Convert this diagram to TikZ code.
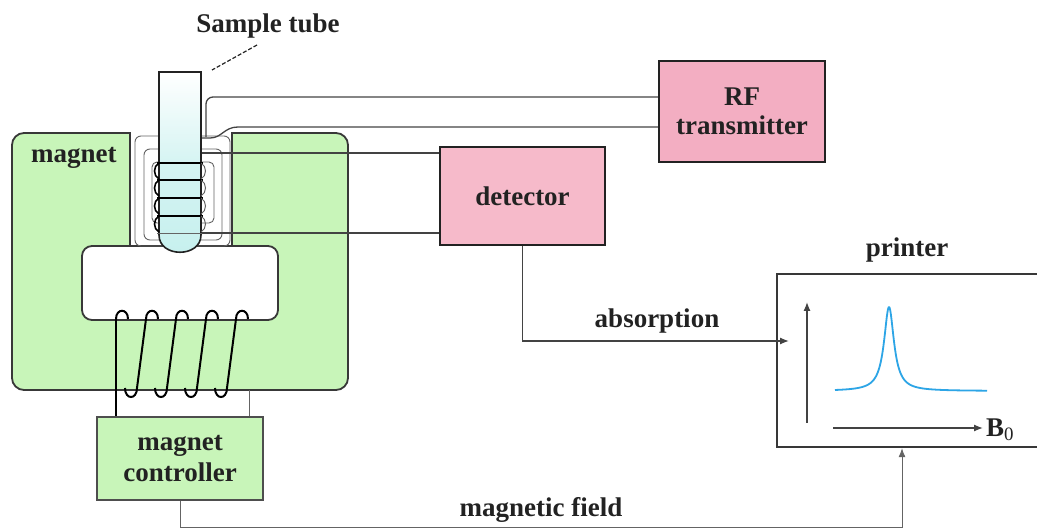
\documentclass[tikz,border=0pt]{standalone}
\usepackage{fontspec}
\setmainfont{Liberation Serif}
\usetikzlibrary{arrows.meta}

\definecolor{magnetgreen}{RGB}{200,245,185}
\definecolor{boxpink}{RGB}{246,186,202}
\definecolor{rfpink}{RGB}{243,174,194}
\definecolor{tubecyan}{RGB}{198,240,238}
\definecolor{peakblue}{RGB}{45,165,230}
\definecolor{ink}{RGB}{34,34,34}

\begin{document}
\begin{tikzpicture}[x=1pt,y=-1pt,
  lbl/.style={font=\fontsize{27}{31}\selectfont\bfseries, text=ink, inner sep=0pt, align=center},
  unitbox/.style={draw=ink, line width=2.4pt, inner sep=0pt, align=center,
                  font=\fontsize{27}{31}\selectfont\bfseries, text=ink},
  outline/.style={draw=ink!90, line width=1.8pt},
  wire/.style={draw=ink!85, line width=1.3pt},
  thinwire/.style={draw=ink!70, line width=0.9pt},
  coilwire/.style={draw=black, line width=2pt},
  tip/.style={-{Latex[length=9pt,width=7pt]}},
]
\useasboundingbox (0,0) rectangle (1037,529);
\clip (0,0) rectangle (1037,529);

% ---------------- magnet yoke ----------------
\draw[outline, fill=magnetgreen, rounded corners=12] (12,133) rectangle (348,390);
% gap between the pole pieces
\fill[white] (131,128) rectangle (231,247);
\draw[outline] (130,133) -- (130,247) (232,133) -- (232,247);
% opening inside the yoke
\draw[outline, fill=white, rounded corners=10] (82,246) rectangle (278,320);

% ---------------- probe ----------------
\draw[thinwire, rounded corners=6] (135,136) rectangle (230,246);
\draw[thinwire, rounded corners=6] (144,149) rectangle (222,240);
\draw[thinwire, rounded corners=5] (152,162) rectangle (214,223);

% sample tube
\draw[top color=white, bottom color=tubecyan, middle color=tubecyan!75!white,
      draw=ink, line width=1.6pt]
  (159,72) -- (159,235) .. controls (159,258) and (201,258) .. (201,235) -- (201,72) -- cycle;

% RF coil turns around the tube
\foreach \yy in {163,180,198,216} {
  \draw[coilwire] (157,\yy) -- (203,\yy);
}
\draw[thinwire] (157,233) -- (203,233);
\foreach \yy in {163,180,198,216} {
  \draw[black, line width=1.6pt] (159,\yy) .. controls (153,\yy+3) and (153,\yy+13) .. (159,\yy+16);
  \draw[ink!70, line width=1pt] (201,\yy) .. controls (207,\yy+3) and (207,\yy+13) .. (201,\yy+16);
}

% ---------------- labels and units ----------------
\node[lbl] (sampletube) at (268,26) {Sample tube};
\coordinate (stA) at (257,45);
\coordinate (stB) at (212,70);
\draw[ink, line width=1.2pt, dash pattern=on 4pt off 2pt] (stA) -- (stB);

\node[lbl, anchor=west] (magnetlbl) at (31,158) {magnet};

\node[unitbox, fill=rfpink, minimum width=166pt, minimum height=101pt] (rf) at (742,111.5)
  {RF\\[-2pt]transmitter};
\node[unitbox, fill=boxpink, minimum width=165pt, minimum height=98pt] (det) at (522.5,196)
  {detector};
\node[draw=ink!80, line width=1.3pt, fill=magnetgreen, inner sep=0pt, align=center,
      font=\fontsize{27}{31}\selectfont\bfseries, text=ink,
      minimum width=166pt, minimum height=83pt] (ctrl) at (180,458.5)
  {magnet\\controller};
\node[draw=ink!90, line width=2.4pt, fill=white, inner sep=0pt,
      minimum width=272pt, minimum height=173pt] (prn) at (913,360.5) {};
\node[lbl] (prnlbl) at (907,250) {printer};

% ---------------- probe wiring ----------------
\coordinate (rfa) at (206,137);
\coordinate (rfb) at (202,138);
\coordinate (deta) at (202,153);
\coordinate (detb) at (202,233);
\draw[wire, rounded corners=7] (rf.west |- 0,97) -| (rfa);
\draw[wire] (rf.west |- 0,127) -- (238,127) .. controls (224,127) and (222,138) .. (210,138) -- (rfb);
\draw[wire] (det.west |- 0,153) -- (deta);
\draw[wire] (det.west |- 0,233) -- (detb);

% ---------------- field coil on the yoke ----------------
\foreach \i in {0,...,4} {
  \pgfmathsetmacro{\tx}{122+30*\i}
  \draw[coilwire] (\tx-6,319) .. controls (\tx-6,308) and (\tx+6,308) .. (\tx+6,319);
}
\foreach \j in {0,...,3} {
  \pgfmathsetmacro{\bx}{131+30*\j}
  \draw[coilwire] (\bx-6,388) .. controls (\bx-6,400) and (\bx+6,400) .. (\bx+6,388);
  \draw[coilwire] (\bx+6,388) -- (\bx+15,319);
}
\draw[coilwire] (116,319) -- (ctrl.north -| 116,0);
\draw[thinwire] (249,390) -- (ctrl.north -| 249,0);

% ---------------- signal paths ----------------
\coordinate (absin) at (789,341);
\draw[wire, tip] (det.south) |- (absin);
\node[lbl] (abslbl) at (657,321) {absorption};

\coordinate (fieldturn) at (902,527);
\draw[thinwire, tip] (ctrl.south) |- (fieldturn) -- (prn.south -| fieldturn);
\node[lbl] (fieldlbl) at (541,510) {magnetic field};

% ---------------- spectrum on the printer ----------------
\draw[wire, tip] (807,423) -- (807,302);
\draw[wire, tip] (833,428) -- (983,428);
\node[lbl, anchor=west] (bzero) at (986,430) {B\textsubscript{\mdseries 0}};
\draw[peakblue, line width=1.8pt, line join=round]
  plot[domain=835:987, samples=401] (\x, {391-84/(1+((\x-889)/6)^2)});

\end{tikzpicture}
\end{document}
